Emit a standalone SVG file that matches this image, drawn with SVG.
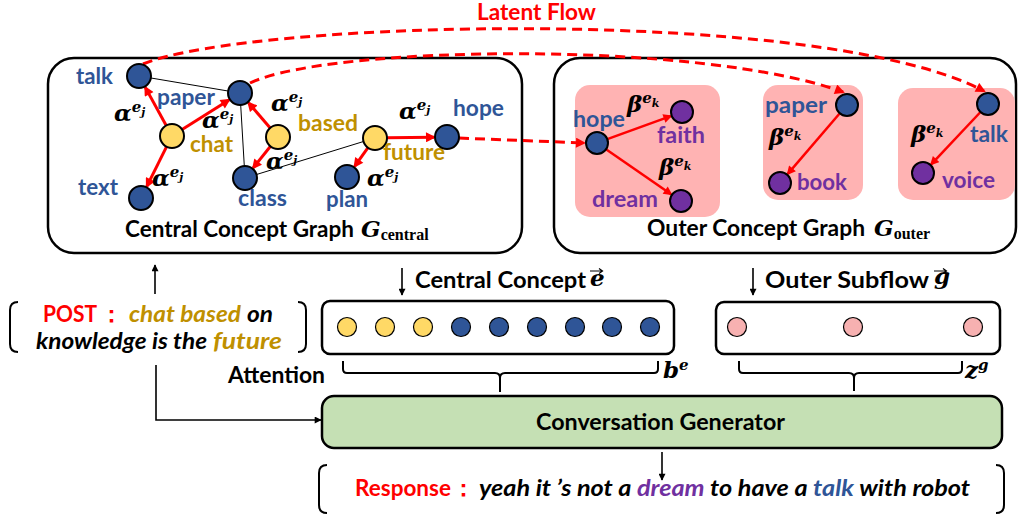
<svg xmlns="http://www.w3.org/2000/svg" width="1019" height="519" viewBox="0 0 1019 519">
<defs>
<marker id="ar" viewBox="0 0 10 10" refX="8" refY="5" markerUnits="userSpaceOnUse" markerWidth="11" markerHeight="10" orient="auto"><path d="M0,0 L10,5 L0,10 z" fill="#FF0000"/></marker>
<marker id="ar2" viewBox="0 0 10 10" refX="8" refY="5" markerUnits="userSpaceOnUse" markerWidth="10" markerHeight="9" orient="auto"><path d="M0,0 L10,5 L0,10 z" fill="#FF0000"/></marker>
<marker id="ard" viewBox="0 0 10 10" refX="8" refY="5" markerUnits="userSpaceOnUse" markerWidth="11" markerHeight="10" orient="auto"><path d="M0,0 L10,5 L0,10 z" fill="#FF0000"/></marker>
<marker id="ak" viewBox="0 0 10 10" refX="9" refY="5" markerUnits="userSpaceOnUse" markerWidth="8" markerHeight="7" orient="auto"><path d="M0,0 L10,5 L0,10 z" fill="#000"/></marker>
</defs>
<style>
.lbl{font-family:Lato,"Liberation Sans",sans-serif;font-weight:700;font-size:23px}
.it{font-style:italic}
.b{fill:#2F5597}.g{fill:#BF9000}.p{fill:#7030A0}.r{fill:#FF0000}.k{fill:#000}
.gr{font-family:"DejaVu Serif",serif;font-weight:700;font-style:italic;font-size:23px;fill:#000}
.sup{font-size:15px}.sub{font-size:11px}
.box{fill:#fff;stroke:#000;stroke-width:2.5}
.nb{fill:#2F5597;stroke:#000;stroke-width:2}
.ny{fill:#FFD966;stroke:#000;stroke-width:2}
.np{fill:#7030A0;stroke:#000;stroke-width:2}
.vb{fill:#2F5597;stroke:#000;stroke-width:1.2}
.vy{fill:#FFD966;stroke:#000;stroke-width:1.2}
.vp{fill:#F7B1B1;stroke:#000;stroke-width:1.2}
.pk{fill:#FFB3B3}
.ra{stroke:#FF0000;stroke-width:3;fill:none;marker-end:url(#ar)}
.ra2{stroke:#FF0000;stroke-width:2.5;fill:none;marker-end:url(#ar2)}
.thin{stroke:#000;stroke-width:1;fill:none}
.dash{stroke:#FF0000;stroke-width:3;fill:none;stroke-dasharray:10 6;marker-end:url(#ard)}
.ka{stroke:#000;stroke-width:1.6;fill:none;marker-end:url(#ak)}
.ln{stroke:#000;stroke-width:2;fill:none}
</style>

<g id="title"><text class="lbl r" x="477" y="20" font-size="22" textLength="119" lengthAdjust="spacingAndGlyphs">Latent Flow</text></g>

<g id="central-graph">
<rect class="box" x="48" y="58" width="474" height="195" rx="26"/>
<text class="lbl k" x="125" y="237" textLength="229" lengthAdjust="spacingAndGlyphs">Central Concept Graph</text>
<text class="gr" x="361" y="237" font-size="23">G<tspan font-style="normal" font-size="16" dy="3" font-family="Liberation Serif, serif">central</tspan></text>
</g>

<g id="outer-graph">
<rect class="box" x="554" y="58" width="462" height="195" rx="26"/>
<rect class="pk" x="575" y="85" width="145" height="132" rx="15"/>
<rect class="pk" x="763" y="85" width="100" height="115" rx="15"/>
<rect class="pk" x="898" y="88" width="117" height="112" rx="15"/>
<text class="lbl k" x="647" y="236" textLength="218" lengthAdjust="spacingAndGlyphs">Outer Concept Graph</text>
<text class="gr" x="874" y="236" font-size="23">G<tspan font-style="normal" font-size="16" dy="3" font-family="Liberation Serif, serif">outer</tspan></text>
</g>

<g id="connectors">
<line class="thin" x1="151" y1="78" x2="228" y2="91"/>
<line class="thin" x1="240.7" y1="105" x2="244.3" y2="166"/>
<line class="thin" x1="256.5" y1="174.5" x2="363.5" y2="141.5"/>
<line class="ra" x1="166.2" y1="125.5" x2="145.3" y2="87.4"/>
<line class="ra" x1="182.1" y1="129.6" x2="229" y2="99.9"/>
<line class="ra" x1="166.6" y1="146.7" x2="146.8" y2="186.4"/>
<line class="ra" x1="270.2" y1="127.9" x2="248.5" y2="102.8"/>
<line class="ra" x1="270.5" y1="146.3" x2="253.2" y2="167.9"/>
<line class="ra" x1="387" y1="137.8" x2="434" y2="137.2"/>
<line class="ra" x1="368" y1="147.7" x2="354.6" y2="166.4"/>
<line class="ra2" x1="607.3" y1="139.2" x2="670.7" y2="116.1"/>
<line class="ra2" x1="606" y1="149.2" x2="671.1" y2="194.2"/>
<line class="ra2" x1="839.8" y1="113.3" x2="787.8" y2="173.9"/>
<line class="ra2" x1="980.5" y1="112" x2="931.2" y2="164.3"/>
<path class="dash" d="M143,64 C250,20 820,5 984,91"/>
<path class="dash" d="M250,83 C330,45 700,40 843,92"/>
<path class="dash" d="M459,138 L584,143"/>
<line class="ka" x1="155" y1="294" x2="155" y2="265"/>
<line class="ka" x1="402" y1="268" x2="402" y2="295"/>
<line class="ka" x1="753" y1="268" x2="753" y2="295"/>
<line class="ka" x1="662" y1="452" x2="662" y2="480"/>
<path class="ka" d="M156,365 V420 H321"/>
<path class="ln" d="M343,361 V369 Q343,373 347,373 H495 Q500,373 500,378 V392 M500,378 Q500,373 505,373 H654 Q658,373 658,369 V361"/>
<path class="ln" d="M739,361 V369 Q739,373 743,373 H849 Q854,373 854,378 V391 M854,378 Q854,373 859,373 H958 Q962,373 962,369 V361"/>
</g>

<g id="n-talk"><circle class="nb" cx="139" cy="76" r="12"/><text class="lbl b" x="76" y="84" textLength="37" lengthAdjust="spacingAndGlyphs">talk</text></g>
<g id="n-paper"><circle class="nb" cx="240" cy="93" r="12"/><text class="lbl b" x="157" y="105" textLength="58" lengthAdjust="spacingAndGlyphs">paper</text></g>
<g id="n-chat"><circle class="ny" cx="172" cy="136" r="12"/><text class="lbl g" x="190" y="152" textLength="43" lengthAdjust="spacingAndGlyphs">chat</text></g>
<g id="n-text"><circle class="nb" cx="141" cy="198" r="12"/><text class="lbl b" x="78" y="195" textLength="40" lengthAdjust="spacingAndGlyphs">text</text></g>
<g id="n-class"><circle class="nb" cx="245" cy="178" r="12"/><text class="lbl b" x="238" y="206" textLength="49" lengthAdjust="spacingAndGlyphs">class</text></g>
<g id="n-based"><circle class="ny" cx="278" cy="137" r="12"/><text class="lbl g" x="298" y="131" textLength="60" lengthAdjust="spacingAndGlyphs">based</text></g>
<g id="n-future"><circle class="ny" cx="375" cy="138" r="12"/><text class="lbl g" x="383" y="160" textLength="62" lengthAdjust="spacingAndGlyphs">future</text></g>
<g id="n-hope"><circle class="nb" cx="447" cy="137" r="12"/><text class="lbl b" x="453" y="116" textLength="51" lengthAdjust="spacingAndGlyphs">hope</text></g>
<g id="n-plan"><circle class="nb" cx="347" cy="177" r="12"/><text class="lbl b" x="326" y="207" textLength="42" lengthAdjust="spacingAndGlyphs">plan</text></g>

<g id="alphas">
<text class="gr" x="114" y="121">α<tspan class="sup" dy="-9">e</tspan><tspan class="sub" dy="4">j</tspan></text>
<text class="gr" x="202" y="128">α<tspan class="sup" dy="-9">e</tspan><tspan class="sub" dy="4">j</tspan></text>
<text class="gr" x="152" y="186">α<tspan class="sup" dy="-9">e</tspan><tspan class="sub" dy="4">j</tspan></text>
<text class="gr" x="271" y="111">α<tspan class="sup" dy="-9">e</tspan><tspan class="sub" dy="4">j</tspan></text>
<text class="gr" x="266" y="169">α<tspan class="sup" dy="-9">e</tspan><tspan class="sub" dy="4">j</tspan></text>
<text class="gr" x="399" y="119">α<tspan class="sup" dy="-9">e</tspan><tspan class="sub" dy="4">j</tspan></text>
<text class="gr" x="367" y="186">α<tspan class="sup" dy="-9">e</tspan><tspan class="sub" dy="4">j</tspan></text>
</g>

<g id="o-hope"><circle class="nb" cx="597" cy="143" r="11"/><text class="lbl b" x="573" y="127" textLength="52" lengthAdjust="spacingAndGlyphs">hope</text></g>
<g id="o-faith"><circle class="np" cx="682" cy="112" r="11"/><text class="lbl p" x="657" y="143" textLength="48" lengthAdjust="spacingAndGlyphs">faith</text></g>
<g id="o-dream"><circle class="np" cx="681" cy="201" r="11"/><text class="lbl p" x="592" y="207" textLength="66" lengthAdjust="spacingAndGlyphs">dream</text></g>
<g id="o-paper"><circle class="nb" cx="847" cy="105" r="11"/><text class="lbl b" x="765" y="113" textLength="62" lengthAdjust="spacingAndGlyphs">paper</text></g>
<g id="o-book"><circle class="np" cx="780" cy="183" r="11"/><text class="lbl p" x="797" y="190" textLength="50" lengthAdjust="spacingAndGlyphs">book</text></g>
<g id="o-talk"><circle class="nb" cx="988" cy="104" r="11"/><text class="lbl b" x="970" y="142" textLength="38" lengthAdjust="spacingAndGlyphs">talk</text></g>
<g id="o-voice"><circle class="np" cx="923" cy="173" r="11"/><text class="lbl p" x="942" y="188" textLength="53" lengthAdjust="spacingAndGlyphs">voice</text></g>

<g id="betas">
<text class="gr" x="627" y="112">β<tspan class="sup" dy="-9">e</tspan><tspan class="sub" dy="4">k</tspan></text>
<text class="gr" x="659" y="175">β<tspan class="sup" dy="-9">e</tspan><tspan class="sub" dy="4">k</tspan></text>
<text class="gr" x="769" y="145">β<tspan class="sup" dy="-9">e</tspan><tspan class="sub" dy="4">k</tspan></text>
<text class="gr" x="911" y="142">β<tspan class="sup" dy="-9">e</tspan><tspan class="sub" dy="4">k</tspan></text>
</g>

<g id="central-vector">
<text class="lbl k" x="415" y="288" textLength="171" lengthAdjust="spacingAndGlyphs">Central Concept</text>
<text class="gr" x="590" y="286" font-size="21">e</text>
<path d="M590,271 H602 M599,268.5 L602.5,271 L599,273.5" stroke="#000" stroke-width="1.2" fill="none"/>
<rect class="box" x="322" y="301" width="352" height="53" rx="8"/>
<circle class="vy" cx="347" cy="327" r="9.5"/>
<circle class="vy" cx="385" cy="327" r="9.5"/>
<circle class="vy" cx="423" cy="327" r="9.5"/>
<circle class="vb" cx="461" cy="327" r="9.5"/>
<circle class="vb" cx="499" cy="327" r="9.5"/>
<circle class="vb" cx="537" cy="327" r="9.5"/>
<circle class="vb" cx="575" cy="327" r="9.5"/>
<circle class="vb" cx="612" cy="327" r="9.5"/>
<circle class="vb" cx="650" cy="327" r="9.5"/>
<text class="lbl k" x="228" y="383" textLength="97" lengthAdjust="spacingAndGlyphs">Attention</text>
<text class="gr" x="663" y="378" font-size="22">b<tspan class="sup" font-size="15" dy="-8">e</tspan></text>
</g>

<g id="outer-vector">
<text class="lbl k" x="765" y="288" textLength="164" lengthAdjust="spacingAndGlyphs">Outer Subflow</text>
<text class="gr" x="934" y="284" font-size="21">g</text>
<path d="M934,271 H946 M943,268.5 L946.5,271 L943,273.5" stroke="#000" stroke-width="1.2" fill="none"/>
<rect class="box" x="716" y="302" width="284" height="52" rx="8"/>
<circle class="vp" cx="737" cy="327" r="9.5"/>
<circle class="vp" cx="853" cy="327" r="9.5"/>
<circle class="vp" cx="973" cy="327" r="9.5"/>
<text class="gr" x="965" y="378" font-size="22">z<tspan class="sup" font-size="15" dy="-8">g</tspan></text>
</g>

<g id="post">
<path class="ln" d="M18,302 Q10,302 10,310 V344 Q10,352 18,352"/>
<path class="ln" d="M298,302 Q306,302 306,310 V344 Q306,352 298,352"/>
<text class="lbl r" x="43" y="322" font-size="22" textLength="54" lengthAdjust="spacingAndGlyphs">POST</text>
<text class="lbl r" x="100" y="322" font-family="Noto Sans CJK SC, sans-serif">：</text>
<text class="lbl it g" x="129" y="322" font-size="22" textLength="112" lengthAdjust="spacingAndGlyphs">chat based</text>
<text class="lbl it k" x="247" y="322" font-size="22" textLength="26" lengthAdjust="spacingAndGlyphs">on</text>
<text class="lbl it k" x="36" y="349" font-size="22" textLength="171" lengthAdjust="spacingAndGlyphs">knowledge is the</text>
<text class="lbl it g" x="213" y="349" font-size="22" textLength="69" lengthAdjust="spacingAndGlyphs">future</text>
</g>

<g id="generator">
<rect x="322" y="396" width="680" height="52" rx="12" fill="#C5E0B4" stroke="#000" stroke-width="2.5"/>
<text class="lbl k" x="536" y="430" font-size="22" textLength="249" lengthAdjust="spacingAndGlyphs">Conversation Generator</text>
</g>

<g id="response">
<path class="ln" d="M327,465 Q319,465 319,473 V505 Q319,513 327,513"/>
<path class="ln" d="M996,465 Q1004,465 1004,473 V505 Q1004,513 996,513"/>
<text class="lbl r" x="355" y="496" font-size="22" textLength="96" lengthAdjust="spacingAndGlyphs">Response</text>
<text class="lbl r" x="452" y="496" font-family="Noto Sans CJK SC, sans-serif">：</text>
<text class="lbl it k" x="479" y="496" font-size="22" textLength="491" lengthAdjust="spacingAndGlyphs">yeah it ’s not a <tspan class="p">dream</tspan> to have a <tspan class="b">talk</tspan> with robot</text>
</g>
</svg>
